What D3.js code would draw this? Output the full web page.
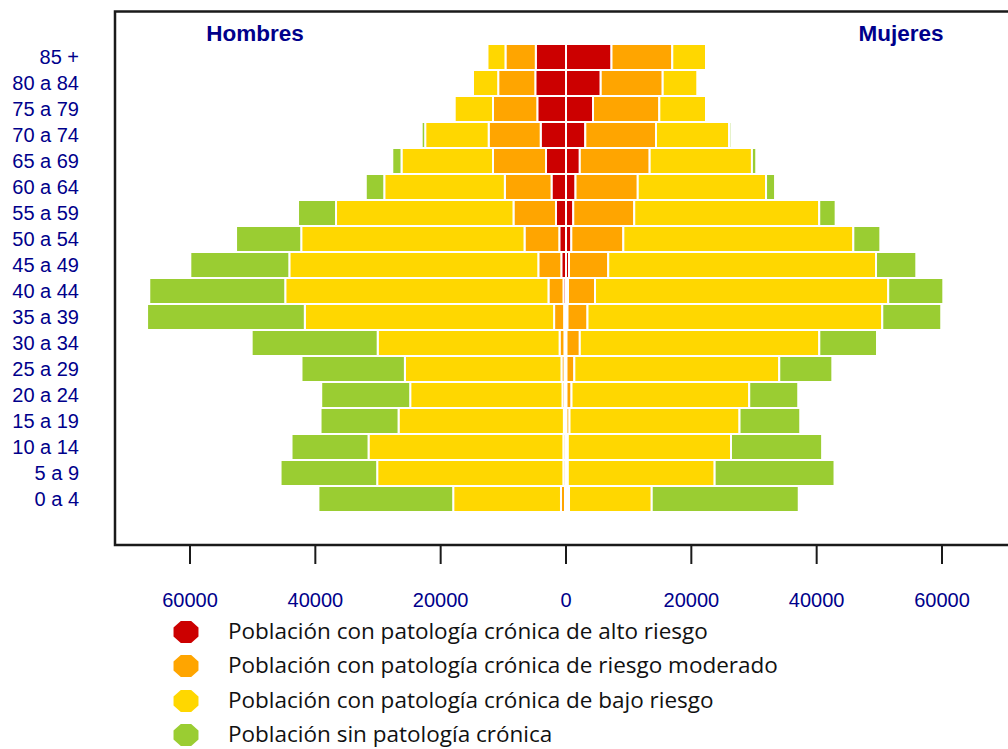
<!DOCTYPE html>
<html>
<head>
<meta charset="utf-8">
<script src="https://cdn.jsdelivr.net/npm/d3@7"></script>
<style>
  html, body { margin: 0; padding: 0; background: #fff; }
  svg { display: block; }
</style>
</head>
<body>
<svg id="chart" width="1008" height="749"></svg>
<script>
// ---- data (top row first) ----
const ageGroups = ["85 +","80 a 84","75 a 79","70 a 74","65 a 69","60 a 64","55 a 59","50 a 54","45 a 49","40 a 44","35 a 39","30 a 34","25 a 29","20 a 24","15 a 19","10 a 14","5 a 9","0 a 4"];

const menHighRisk     = [4820,4900,4580,4040,3190,2310,1600,1070,750,400,300,250,240,160,100,100,100,160];
const menModerateRisk = [4840,5920,7070,8300,8460,7450,6780,5550,3670,2400,1600,770,480,400,240,320,320,640];
const menLowRisk      = [2870,4020,6110,10130,14600,19240,28320,35630,39730,42000,39780,29030,24990,24300,26380,31090,29710,17200];
const menNoChronic    = [0,0,0,560,1470,2950,6060,10400,15800,21700,25170,20110,16500,14200,12450,12290,15420,21510];

const womenHighRisk     = [7260,5540,4310,3080,2200,1520,1160,850,480,320,240,80,80,80,80,50,50,160];
const womenModerateRisk = [9700,9890,10580,11280,11150,9930,9730,8300,6260,4310,3190,2120,1250,800,480,240,240,320];
const womenLowRisk      = [5380,5520,7450,11680,16320,20470,29520,36700,42730,46790,47040,38220,32700,28360,27130,26040,23430,13200];
const womenNoChronic    = [0,0,0,340,690,1440,2620,4310,6430,8790,9410,9210,8470,7820,9690,14540,19130,23460];

const tickValues = [-60000,-40000,-20000,0,20000,40000,60000];
const seriesNames = [
  "Población con patología crónica de alto riesgo",
  "Población con patología crónica de riesgo moderado",
  "Población con patología crónica de bajo riesgo",
  "Población sin patología crónica"
];
const seriesColors = ["#CC0000","#FFA500","#FFD700","#9ACD32"];
const sideLabels = ["Hombres","Mujeres"];

// ---- layout ----
const svg = d3.select("#chart");
const navy = "#00008B";
const x = d3.scaleLinear().domain([-60000, 60000]).range([190, 942]);
const y = d3.scaleBand().domain(ageGroups).range([44, 44 + 26 * ageGroups.length]).paddingInner(0);

const menSeries = [menHighRisk, menModerateRisk, menLowRisk, menNoChronic];
const womenSeries = [womenHighRisk, womenModerateRisk, womenLowRisk, womenNoChronic];

function buildSegments(series, sign) {
  const segs = [];
  ageGroups.forEach((age, i) => {
    let acc = 0;
    series.forEach((arr, k) => {
      const v = arr[i];
      segs.push({ age, k, start: sign * acc, end: sign * (acc + v) });
      acc += v;
    });
  });
  return segs.filter(d => d.start !== d.end);
}
const segments = buildSegments(menSeries, -1).concat(buildSegments(womenSeries, 1));

svg.append("g").selectAll("rect").data(segments).join("rect")
  .attr("x", d => x(Math.min(d.start, d.end)))
  .attr("width", d => Math.abs(x(d.end) - x(d.start)))
  .attr("y", d => y(d.age))
  .attr("height", y.bandwidth())
  .attr("fill", d => seriesColors[d.k])
  .attr("stroke", "#fff")
  .attr("stroke-width", 2);

// plot box (right side cut off by the page edge)
svg.append("path")
  .attr("d", "M1030,11.5 H115 V545 H1030")
  .attr("fill", "none")
  .attr("stroke", "#1a1a1a")
  .attr("stroke-width", 2.5);

// x axis ticks + labels
const axisG = svg.append("g");
axisG.selectAll("line").data(tickValues).join("line")
  .attr("x1", d => x(d)).attr("x2", d => x(d))
  .attr("y1", 545).attr("y2", 564)
  .attr("stroke", "#1a1a1a").attr("stroke-width", 2);
axisG.selectAll("text").data(tickValues).join("text")
  .attr("x", d => x(d)).attr("y", 607)
  .attr("text-anchor", "middle")
  .attr("font-family", "Liberation Sans, Arial, sans-serif")
  .attr("font-size", 20)
  .attr("fill", navy)
  .text(d => Math.abs(d));

// y labels
svg.append("g").selectAll("text").data(ageGroups).join("text")
  .attr("x", 79)
  .attr("y", d => y(d) + y.bandwidth() / 2 + 7)
  .attr("text-anchor", "end")
  .attr("font-family", "Liberation Sans, Arial, sans-serif")
  .attr("font-size", 20)
  .attr("fill", navy)
  .text(d => d);

// side labels
svg.append("g").selectAll("text").data(sideLabels).join("text")
  .attr("x", (d, i) => i === 0 ? 255 : 901)
  .attr("y", 41)
  .attr("text-anchor", "middle")
  .attr("font-family", "Liberation Sans, Arial, sans-serif")
  .attr("font-weight", "bold")
  .attr("font-size", 22.5)
  .attr("fill", navy)
  .text(d => d);

// legend
const legendY = [631, 665, 700, 734];
const oct = d3.range(8).map(j => {
  const a = Math.PI / 8 + j * Math.PI / 4;
  return [13.5 * Math.cos(a), 12 * Math.sin(a)];
});
const lg = svg.append("g").selectAll("g").data(seriesNames).join("g")
  .attr("transform", (d, i) => `translate(0,${legendY[i]})`);
lg.append("path")
  .attr("d", "M" + oct.map(p => p.join(",")).join("L") + "Z")
  .attr("transform", "translate(186,1)")
  .attr("fill", (d, i) => seriesColors[i]);
lg.append("text")
  .attr("x", 228).attr("y", 8)
  .attr("font-family", "Open Sans, sans-serif")
  .attr("font-size", 22.5)
  .attr("fill", "#111")
  .text(d => d);
</script>
</body>
</html>
